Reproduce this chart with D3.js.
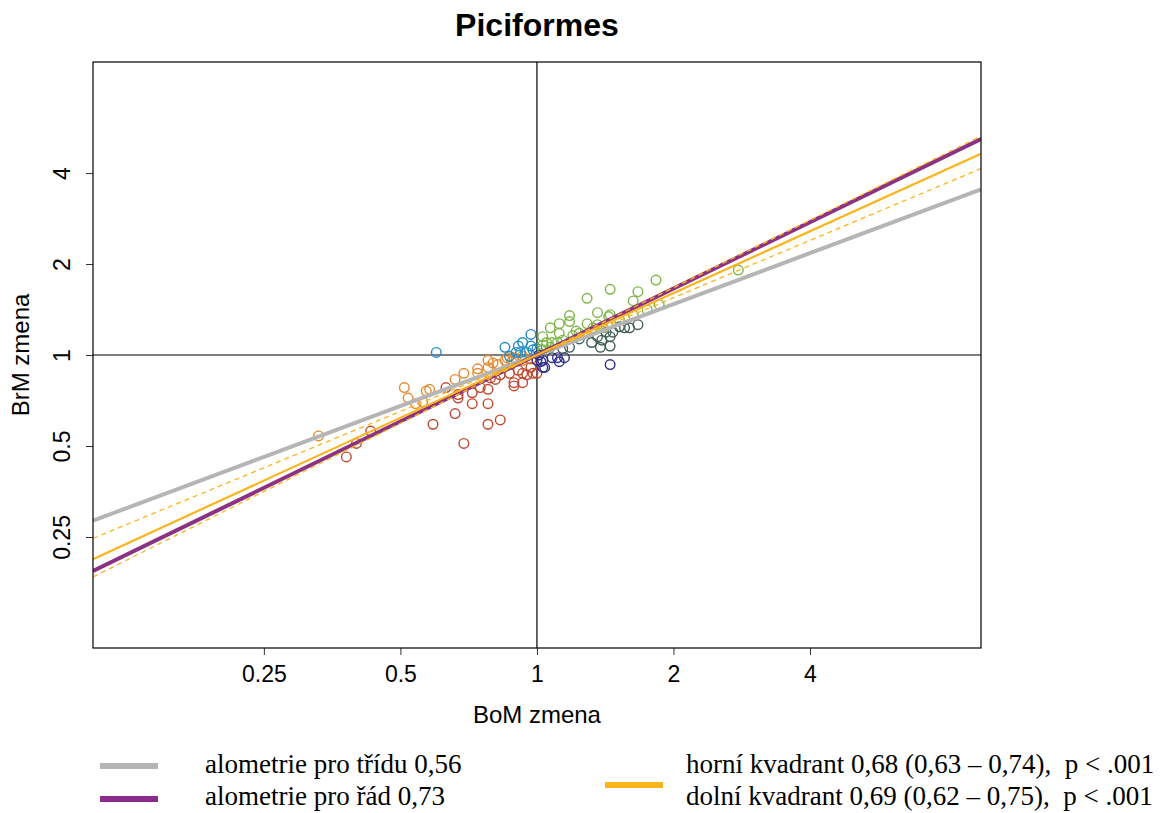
<!DOCTYPE html>
<html>
<head>
<meta charset="utf-8">
<script src="https://cdn.jsdelivr.net/npm/d3@7"></script>
<style>
  body { margin: 0; background: #fff; }
  svg { display: block; }
</style>
</head>
<body>
<div id="chart"></div>
<script>
// data: [BoM zmena, BrM zmena]
var orangePts = [[0.33,0.54],[0.51,0.78],[0.52,0.72],[0.57,0.76],[0.58,0.77],[0.54,0.69],[0.56,0.70],
  [0.66,0.83],[0.69,0.87],[0.74,0.90],[0.74,0.87],[0.78,0.96],[0.78,0.91],[0.82,0.93],[0.85,0.96],
  [0.88,0.95],[0.90,0.96],[0.93,0.96],[0.97,0.97],[0.80,0.94],[0.86,0.98],[0.93,0.99],[0.89,0.98]];
var redPts = [[0.38,0.46],[0.40,0.51],[0.43,0.56],[0.59,0.59],[0.63,0.78],[0.67,0.74],[0.67,0.72],
  [0.66,0.64],[0.72,0.75],[0.72,0.69],[0.69,0.51],[0.78,0.77],[0.78,0.69],[0.78,0.59],[0.83,0.61],
  [0.75,0.78],[0.81,0.83],[0.87,0.87],[0.89,0.81],[0.89,0.79],[0.93,0.81],[0.93,0.87],[0.98,0.87],
  [1.00,0.87],[0.83,0.86],[0.91,0.89],[0.97,0.91],[0.79,0.84],[0.95,0.86]];
var bluePts = [[0.60,1.02],[0.85,1.06],[0.91,1.07],[0.93,1.10],[0.97,1.17],[0.97,1.07],[0.87,0.99],
  [0.90,1.02],[0.95,1.02],[0.98,1.04],[1.00,1.05],[0.92,1.02]];
var navyPts = [[1.45,0.93],[1.12,0.95],[1.08,0.98],[1.03,0.91],[1.03,0.96],[1.00,0.96],[1.15,0.98],
  [1.11,0.98],[1.02,0.95],[1.04,0.91],[1.01,1.00]];
var greenPts = [[2.78,1.91],[1.83,1.77],[1.45,1.65],[1.67,1.62],[1.29,1.54],[1.63,1.51],[1.86,1.47],
  [1.36,1.38],[1.45,1.36],[1.44,1.34],[1.75,1.41],[1.63,1.36],[1.52,1.31],[1.29,1.27],[1.36,1.26],
  [1.40,1.23],[1.22,1.20],[1.18,1.29],[1.18,1.35],[1.07,1.23],[1.12,1.27],[1.12,1.18],[1.03,1.15],
  [1.20,1.16],[1.24,1.18],[1.33,1.23],[1.05,1.10],[1.08,1.10],[1.11,1.10],[1.14,1.12],[1.07,1.06],
  [1.03,1.04],[1.03,1.08],[1.43,1.26]];
var darkGreenPts = [[1.32,1.10],[1.39,1.12],[1.38,1.06],[1.45,1.15],[1.45,1.07],[1.56,1.23],[1.60,1.23],
  [1.67,1.26],[1.42,1.19],[1.47,1.19],[1.36,1.15],[1.24,1.13],[1.18,1.06],[1.14,1.05],[1.52,1.24]];

// allometry slopes (lines through 1,1)
var slopeClass = 0.56;
var slopeOrder = 0.73;
var upperQuad = {est: 0.68, lo: 0.63, hi: 0.74};
var lowerQuad = {est: 0.69, lo: 0.62, hi: 0.75};

var xTicks = [0.25, 0.5, 1, 2, 4];
var yTicks = [0.25, 0.5, 1, 2, 4];
var xDomain = [0.105, 9.53];
var yDomain = [0.1073, 9.32];

var legendLeft = ["alometrie pro třídu 0,56", "alometrie pro řád 0,73"];
var legendRight = ["horní kvadrant 0,68 (0,63 – 0,74),  p < .001",
                   "dolní kvadrant 0,69 (0,62 – 0,75),  p < .001"];

var W = 1161, H = 813;
var margin = {top: 62, right: 180, bottom: 165, left: 93},
    width = 981 - margin.left,
    height = 648 - margin.top;

var svg = d3.select("#chart").append("svg")
    .attr("width", W).attr("height", H);

var g = svg.append("g")
    .attr("transform", "translate(" + margin.left + "," + margin.top + ")");

var x = d3.scaleLog().base(2).domain(xDomain).range([0, width]);
var y = d3.scaleLog().base(2).domain(yDomain).range([height, 0]);

g.append("clipPath").attr("id", "clip")
  .append("rect").attr("width", width).attr("height", height);

var sans = "Liberation Sans, Arial, sans-serif";

// title
svg.append("text")
    .attr("x", margin.left + x(1)).attr("y", 36)
    .attr("text-anchor", "middle")
    .style("font-family", sans)
    .style("font-weight", "bold").style("font-size", "32px")
    .text("Piciformes");

// axes
var xAxis = g.append("g")
    .attr("transform", "translate(0," + height + ")")
    .call(d3.axisBottom(x).tickValues(xTicks).tickSize(7).tickPadding(11).tickFormat(d3.format("")));
var yAxis = g.append("g")
    .call(d3.axisLeft(y).tickValues(yTicks).tickSize(7).tickPadding(10).tickFormat(d3.format("")));
[xAxis, yAxis].forEach(function(a){
  a.attr("font-size", null).attr("font-family", null);
  a.select(".domain").remove();
  a.selectAll("line").attr("stroke", "#333");
  a.selectAll("text")
    .style("font-family", sans)
    .style("font-size", "23px").attr("fill", "#000");
});
yAxis.selectAll(".tick text")
    .attr("text-anchor", "middle")
    .attr("transform", "rotate(-90)")
    .attr("x", 0).attr("y", -31).attr("dy", "0.35em");

svg.append("text")
    .attr("x", margin.left + x(1)).attr("y", 723)
    .attr("text-anchor", "middle")
    .style("font-family", sans).style("font-size", "24px")
    .text("BoM zmena");
svg.append("text")
    .attr("transform", "translate(29," + (margin.top + y(1)) + ") rotate(-90)")
    .attr("text-anchor", "middle")
    .style("font-family", sans).style("font-size", "24px")
    .text("BrM zmena");

// crosshair at 1,1
g.append("line").attr("x1", 0).attr("x2", width).attr("y1", y(1)).attr("y2", y(1))
    .attr("stroke", "#000").attr("stroke-width", 1.2);
g.append("line").attr("x1", x(1)).attr("x2", x(1)).attr("y1", 0).attr("y2", height)
    .attr("stroke", "#000").attr("stroke-width", 1.2);

// points
var groups = [
  {pts: orangePts, color: "#E38A2E"},
  {pts: redPts, color: "#C2472F"},
  {pts: bluePts, color: "#238BC6"},
  {pts: navyPts, color: "#2F2F8C"},
  {pts: darkGreenPts, color: "#3F5E55"},
  {pts: greenPts, color: "#7DB547"}
];
groups.forEach(function(grp){
  g.selectAll(null)
    .data(grp.pts)
    .enter()
    .append("circle")
      .attr("cx", function(d){ return x(d[0]); })
      .attr("cy", function(d){ return y(d[1]); })
      .attr("r", 4.8)
      .attr("fill", "none")
      .attr("stroke", grp.color)
      .attr("stroke-width", 1.4);
});

// allometry lines y = x^b
var lines = g.append("g").attr("clip-path", "url(#clip)");
function powLine(b, x0, x1) {
  return d3.line()
    .x(function(d){ return x(d); })
    .y(function(d){ return y(Math.pow(d, b)); })([x0, x1]);
}
lines.append("path").attr("d", powLine(slopeClass, xDomain[0], xDomain[1]))
    .attr("stroke", "#B5B5B5").attr("stroke-width", 4).attr("fill", "none");
lines.append("path").attr("d", powLine(slopeOrder, xDomain[0], xDomain[1]))
    .attr("stroke", "#8C3282").attr("stroke-width", 4).attr("fill", "none");

var orange = "#FBB41C";
[[lowerQuad, xDomain[0], 1], [upperQuad, 1, xDomain[1]]].forEach(function(q){
  var s = q[0];
  [s.lo, s.hi].forEach(function(b){
    lines.append("path").attr("d", powLine(b, q[1], q[2]))
      .attr("stroke", orange).attr("stroke-width", 1.3)
      .attr("stroke-dasharray", "5,4").attr("fill", "none");
  });
  lines.append("path").attr("d", powLine(s.est, q[1], q[2]))
    .attr("stroke", orange).attr("stroke-width", 2.2).attr("fill", "none");
});

// frame
g.append("rect").attr("width", width).attr("height", height)
    .attr("fill", "none").attr("stroke", "#000").attr("stroke-width", 1.2);

// legend
var serif = "Liberation Serif, Times New Roman, serif";
var legColors = ["#B5B5B5", "#8C2B8C"];
legendLeft.forEach(function(t, i){
  var yy = 766 + i * 33;
  svg.append("line").attr("x1", 100).attr("x2", 158).attr("y1", yy).attr("y2", yy)
     .attr("stroke", legColors[i]).attr("stroke-width", 6);
  svg.append("text").attr("x", 205).attr("y", 773 + i * 32)
     .style("font-family", serif).style("font-size", "27px")
     .text(t);
});
svg.append("line").attr("x1", 605).attr("x2", 663).attr("y1", 785).attr("y2", 785)
   .attr("stroke", "#FBB41C").attr("stroke-width", 6);
legendRight.forEach(function(t, i){
  svg.append("text").attr("x", 686).attr("y", 773 + i * 32)
     .style("font-family", serif).style("font-size", "27px")
     .style("white-space", "pre")
     .text(t);
});
</script>
</body>
</html>
